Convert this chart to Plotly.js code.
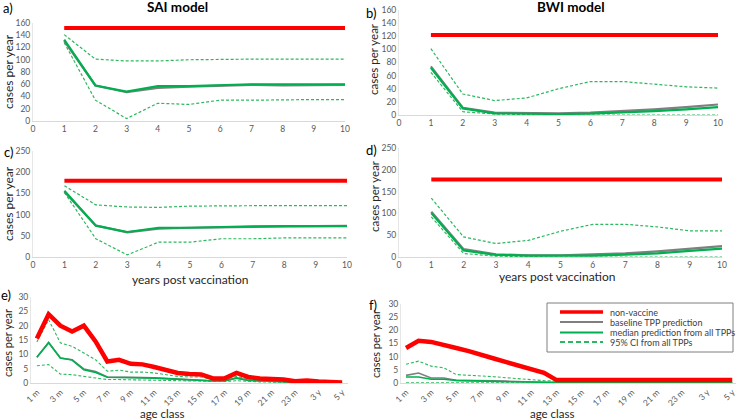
<!DOCTYPE html>
<html>
<head>
<meta charset="utf-8">
<script src="https://cdn.plot.ly/plotly-3.0.1.min.js"></script>
<style>
html,body{margin:0;padding:0;background:#fff;}
#chart{width:739px;height:420px;}
</style>
</head>
<body>
<div id="chart"></div>
<script>
// ---------- DATA ----------
const years = [1, 2, 3, 4, 5, 6, 7, 8, 9, 10];
const yearTicks = [0, 1, 2, 3, 4, 5, 6, 7, 8, 9, 10];

// a) SAI model
const aNonVaccine = [152, 152, 152, 152, 152, 152, 152, 152, 152, 152];
const aBaseline   = [131, 58, 47, 54, 56, 57, 59, 58, 58, 59];
const aMedian     = [133, 58, 48, 57, 57, 59, 60, 60, 60, 60];
const aUpper      = [141, 101, 98, 98, 100, 101, 101, 101, 101, 101];
const aLower      = [128, 34, 4, 29, 27, 34, 34, 35, 35, 35];

// b) BWI model
const bNonVaccine = [122, 122, 122, 122, 122, 122, 122, 122, 122, 122];
const bBaseline   = [74, 11, 3.5, 2.5, 2.5, 3.5, 5.5, 8.5, 12, 16];
const bMedian     = [72, 10, 2.5, 1.5, 1.5, 2, 3.5, 6, 8.5, 12];
const bUpper      = [101, 32, 22, 26, 40, 51, 51, 47, 43, 41];
const bLower      = [65, 5, 1.5, 0.5, 0, 0, 0, 0, 0, 0];

// c) SAI model
const cNonVaccine = [180, 180, 180, 180, 180, 180, 180, 180, 180, 180];
const cBaseline   = [154, 74, 58, 67, 69, 70.5, 72, 72, 73, 73.5];
const cMedian     = [156, 74, 59, 69, 69, 71, 72, 73, 73, 73];
const cUpper      = [168, 123, 118, 117, 120, 121, 121, 121, 121, 121];
const cLower      = [152, 43, 5, 35, 35, 43, 43, 45, 45, 45];

// d) BWI model
const dNonVaccine = [178, 178, 178, 178, 178, 178, 178, 178, 178, 178];
const dBaseline   = [104, 18, 6, 4, 4, 5.5, 8.5, 13, 19, 25];
const dMedian     = [101, 15, 5, 3, 3, 3, 5.5, 8.5, 14, 19];
const dUpper      = [135, 46, 31, 38, 59, 75, 75, 69, 60, 60];
const dLower      = [92, 8, 2, 0.5, 0, 0, 0, 0, 0, 0];

// e), f) age classes
const ageClasses = ["1 m","2 m","3 m","4 m","5 m","6 m","7 m","8 m","9 m","10 m","11 m","12 m",
  "13 m","14 m","15 m","16 m","17 m","18 m","19 m","20 m","21 m","22 m","23 m","24 m","3 y","4 y","5 y"];
const ageTickLabels = ["1 m","3 m","5 m","7 m","9 m","11 m","13 m","15 m","17 m","19 m","21 m","23 m","3 y","5 y"];

const eNonVaccine = [15.5,24,20,18,20,14.5,7.5,8.1,6.7,6.5,5.6,4.4,3.5,3.1,3.0,1.6,1.6,3.5,2.1,1.6,1.5,1.2,0.6,0.9,0.5,0.3,0.2];
const eBaseline   = [9,14.2,8.7,8.1,4.9,4,2.1,2.1,2,1.9,1.8,1.6,1.3,1.2,1.1,0.8,0.8,1.8,1.0,0.8,0.7,0.6,0.3,0.4,0.2,0.1,0.1];
const eMedian     = [9,14,8.7,8,4.6,3.7,2,2,1.9,1.8,1.7,1.5,1.2,1.1,1.0,0.7,0.7,1.7,0.9,0.7,0.6,0.5,0.3,0.3,0.2,0.1,0.1];
const eUpper      = [14.3,22.1,14,12.8,10.5,8.1,4.1,4.5,3.8,3.8,3.5,2.9,2.3,2.1,2.1,1.2,1.2,2.3,1.4,1.2,1.0,0.8,0.4,0.6,0.3,0.2,0.1];
const eLower      = [6,6.4,3.1,2.9,2.3,1.7,1.2,1.2,1.1,1.1,1.0,0.9,0.8,0.7,0.7,0.5,0.5,0.8,0.5,0.4,0.3,0.2,0.1,0.1,0.05,0,0];

const fNonVaccine = [13.3,16,15.6,14.6,13.3,12.1,10.5,9.3,7.9,6.5,5.1,3.9,1.1,1.1,1.1,1.1,1.1,1.1,1.1,1.1,1.1,1.1,1.1,1.1,1.1,1.1,1.1];
const fBaseline   = [2.9,3.8,1.9,1.9,1.0,1.0,0.9,0.8,0.7,0.5,0.4,0.3,0.2,0.1,0.1,0.1,0.1,0.1,0.1,0.1,0.1,0.1,0.1,0.1,0.1,0.1,0.1];
const fMedian     = [2.3,2.3,1.4,1.4,1.0,0.8,0.7,0.6,0.5,0.4,0.3,0.2,0.1,0.1,0.1,0.1,0.1,0.1,0.1,0.1,0.1,0.1,0.1,0.1,0.1,0.1,0.1];
const fUpper      = [7.1,8.3,6.4,5.8,3.2,3.0,2.7,2.4,2.0,1.6,1.2,0.9,0.7,0.5,0.4,0.4,0.4,0.4,0.4,0.4,0.4,0.4,0.4,0.4,0.4,0.4,0.4];
const fLower      = [0.1,0.1,0.1,0.1,0.1,0.1,0.1,0.1,0.1,0.1,0.1,0.1,0.1,0.1,0.1,0.1,0.1,0.1,0.1,0.1,0.1,0.1,0.1,0.1,0.1,0.1,0.1];

const legendNames = ["non-vaccine", "baseline TPP prediction", "median prediction from all TPPs", "95% CI from all TPPs"];

// ---------- STYLE ----------
const RED = "#FF0000", GRAY = "#7F7F7F", GREEN = "#00B050", DGREEN = "#2CB85E";
const FONT = "Lato, 'Open Sans', sans-serif";
const W = 739, H = 420;
const px = v => v / W;
const py = v => 1 - v / H;

const traces = [];
function addPanel(n, x, nonVac, base, med, up, lo, wRed, wMain, wDash) {
  const xa = n === 1 ? "x" : "x" + n, ya = n === 1 ? "y" : "y" + n;
  const common = {xaxis: xa, yaxis: ya, mode: "lines", showlegend: false, hoverinfo: "skip"};
  traces.push(Object.assign({x: x, y: up, line: {color: DGREEN, width: wDash, dash: "3px,2px"}}, common));
  traces.push(Object.assign({x: x, y: lo, line: {color: DGREEN, width: wDash, dash: "3px,2px"}}, common));
  traces.push(Object.assign({x: x, y: base, line: {color: GRAY, width: wMain}}, common));
  traces.push(Object.assign({x: x, y: med, line: {color: GREEN, width: wMain}}, common));
  traces.push(Object.assign({x: x, y: nonVac, line: {color: RED, width: wRed}}, common));
}
addPanel(1, years, aNonVaccine, aBaseline, aMedian, aUpper, aLower, 4, 2.2, 1.2);
addPanel(2, years, bNonVaccine, bBaseline, bMedian, bUpper, bLower, 4, 2.2, 1.2);
addPanel(3, years, cNonVaccine, cBaseline, cMedian, cUpper, cLower, 4, 2.2, 1.2);
addPanel(4, years, dNonVaccine, dBaseline, dMedian, dUpper, dLower, 4, 2.2, 1.2);
addPanel(5, ageClasses, eNonVaccine, eBaseline, eMedian, eUpper, eLower, 4.5, 1.6, 1.1);
addPanel(6, ageClasses, fNonVaccine, fBaseline, fMedian, fUpper, fLower, 4.5, 1.6, 1.1);

const tickFont = {family: FONT, size: 8.5, color: "#595959"};
function xYears(x0, x1) {
  return {domain: [px(x0), px(x1)], range: [0, 10], tickmode: "array", tickvals: yearTicks,
    ticktext: yearTicks.map(String), showgrid: false, zeroline: false, showline: true,
    linecolor: "#D9D9D9", linewidth: 1, ticks: "", tickfont: tickFont, fixedrange: true};
}
function yAx(y0, y1, max, step) {
  const vals = [];
  for (let v = 0; v <= max; v += step) vals.push(v);
  return {domain: [py(y1), py(y0)], range: [0, max], tickmode: "array", tickvals: vals,
    ticktext: vals.map(String), showgrid: false, zeroline: false, showline: true,
    linecolor: "#E6E6E6", linewidth: 1, ticks: "", tickfont: tickFont, fixedrange: true};
}
function xAge(x0, x1, r0, r1) {
  const vals = ageClasses.filter((c, i) => i % 2 === 0);
  return {domain: [px(x0), px(x1)], type: "category", range: [r0, r1], tickmode: "array",
    tickvals: vals, ticktext: ageTickLabels, tickangle: -45, showgrid: false, zeroline: false,
    showline: true, linecolor: "#D9D9D9", linewidth: 1, ticks: "", tickfont: tickFont, fixedrange: true};
}

const annotations = [];
function ann(text, x, y, size, opts) {
  annotations.push(Object.assign({text: text, x: px(x), y: py(y), xref: "paper", yref: "paper",
    showarrow: false, xanchor: "center", yanchor: "middle",
    font: {family: FONT, size: size, color: "#000"}}, opts || {}));
}
ann("<b>SAI model</b>", 177, 7, 13.5);
ann("<b>BWI model</b>", 571, 7, 13.5);
ann("a)", 8, 8, 13); ann("b)", 371, 13, 13); ann("c)", 8, 152, 13);
ann("d)", 371, 150, 13); ann("e)", 6, 295, 13); ann("f)", 373, 305, 13);
const titleFont = s => ({font: {family: FONT, size: s, color: "#262626"}});
ann("cases per year", 8, 72, 12, Object.assign({textangle: -90}, titleFont(12)));
ann("cases per year", 374, 59, 11.5, Object.assign({textangle: -90}, titleFont(11.5)));
ann("cases per year", 8, 204, 12, Object.assign({textangle: -90}, titleFont(12)));
ann("cases per year", 374, 196, 11.5, Object.assign({textangle: -90}, titleFont(11.5)));
ann("cases per year", 7, 343, 11, Object.assign({textangle: -90}, titleFont(11)));
ann("cases per year", 375, 344, 11, Object.assign({textangle: -90}, titleFont(11)));
ann("years post vaccination", 190, 279, 12, titleFont(12));
ann("years post vaccination", 557, 276, 12, titleFont(12));
ann("age class", 162, 413, 11.5, titleFont(11.5));
ann("age class", 552, 413, 11.5, titleFont(11.5));

// manual legend (inside panel f)
const shapes = [{type: "rect", xref: "paper", yref: "paper", x0: px(547), x1: px(733), y0: py(352), y1: py(303),
  line: {color: "#7F7F7F", width: 1}, fillcolor: "rgba(255,255,255,1)"}];
const legStyles = [
  {color: RED, width: 3.5, dash: "solid"},
  {color: GRAY, width: 2.2, dash: "solid"},
  {color: GREEN, width: 2.2, dash: "solid"},
  {color: DGREEN, width: 2.2, dash: "5px,3px"}];
const legRows = [312, 322, 332.5, 342];
legendNames.forEach((name, i) => {
  shapes.push({type: "line", xref: "paper", yref: "paper", x0: px(560), x1: px(603),
    y0: py(legRows[i]), y1: py(legRows[i]), line: legStyles[i]});
  ann(name, 608, legRows[i], 9, {xanchor: "left", font: {family: FONT, size: 9, color: "#404040"}});
});

const layout = {
  width: W, height: H, margin: {l: 0, r: 0, t: 0, b: 0},
  paper_bgcolor: "#fff", plot_bgcolor: "rgba(0,0,0,0)", showlegend: false,
  font: {family: FONT},
  xaxis: xYears(33, 345), yaxis: yAx(23, 121, 160, 20),
  xaxis2: xYears(399, 718), yaxis2: yAx(10, 115, 160, 20),
  xaxis3: xYears(33, 347), yaxis3: yAx(151, 257, 250, 50),
  xaxis4: xYears(399, 722), yaxis4: yAx(148, 257, 250, 50),
  xaxis5: xAge(31, 348, -0.5, 26.5), yaxis5: yAx(297, 383, 30, 5),
  xaxis6: xAge(401, 736, -0.4, 26.3), yaxis6: yAx(304, 383, 30, 5),
  annotations: annotations, shapes: shapes
};
layout.xaxis.anchor = "y"; layout.yaxis.anchor = "x";
layout.xaxis2.anchor = "y2"; layout.yaxis2.anchor = "x2";
layout.xaxis3.anchor = "y3"; layout.yaxis3.anchor = "x3";
layout.xaxis4.anchor = "y4"; layout.yaxis4.anchor = "x4";
layout.xaxis5.anchor = "y5"; layout.yaxis5.anchor = "x5";
layout.xaxis6.anchor = "y6"; layout.yaxis6.anchor = "x6";

Plotly.newPlot("chart", traces, layout, {staticPlot: true, displayModeBar: false});
</script>
</body>
</html>
